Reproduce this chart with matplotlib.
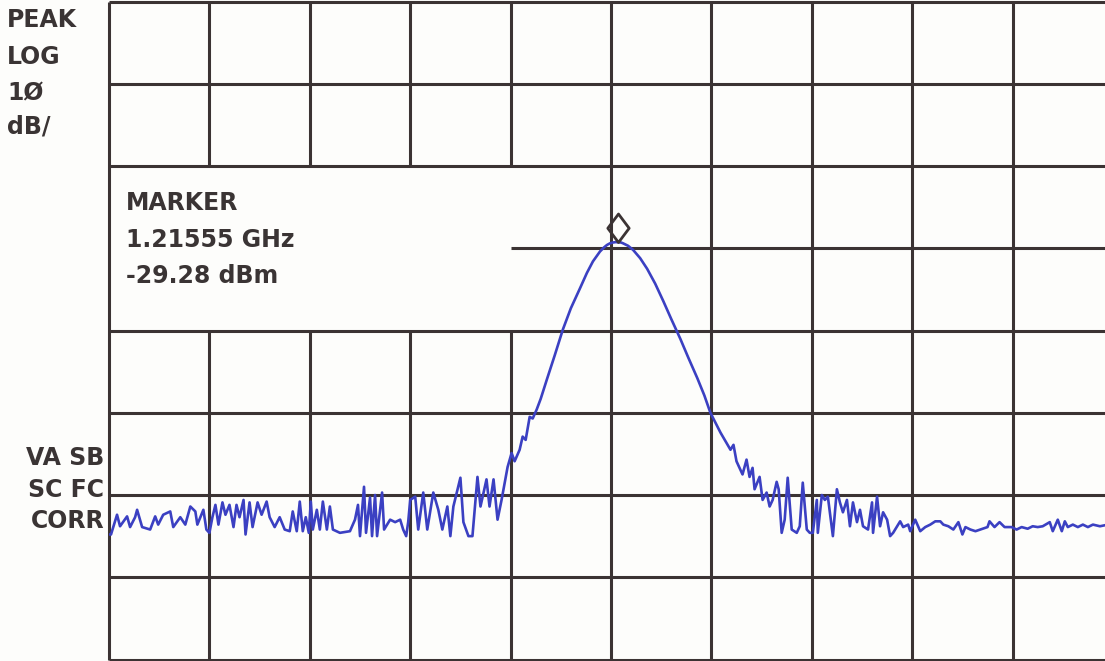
import numpy as np
import matplotlib.pyplot as plt
from matplotlib.path import Path

# spectrum analyser plot: 10 divisions across, ref level 0 dBm, 10 dB/div, 8 divisions down
# trace position in screen divisions, level in dBm
div = [0.00, 0.02, 0.08, 0.11, 0.18, 0.21, 0.26, 0.28, 0.33, 0.41, 0.46, 0.49, 0.54, 0.61,
       0.64, 0.71, 0.76, 0.81, 0.86, 0.88, 0.91, 0.94, 0.97, 1.00,
       1.03, 1.06, 1.09, 1.13, 1.16, 1.20, 1.24, 1.27, 1.30, 1.34, 1.36, 1.40, 1.43, 1.48,
       1.52, 1.57, 1.60, 1.65, 1.70, 1.75, 1.80, 1.83, 1.87, 1.90, 1.93, 1.96, 1.99,
       2.01, 2.03, 2.07, 2.10, 2.13, 2.17, 2.20, 2.23, 2.30, 2.40, 2.45, 2.48, 2.50, 2.54,
       2.56, 2.60, 2.62, 2.65, 2.67, 2.72, 2.74, 2.80, 2.85, 2.90, 2.93, 2.96, 2.98,
       3.00, 3.05, 3.08, 3.13, 3.17, 3.23, 3.28, 3.32, 3.37, 3.40, 3.43, 3.50, 3.53, 3.58,
       3.62, 3.65, 3.67, 3.70, 3.76, 3.79, 3.83, 3.87, 3.91, 3.97, 4.01, 4.04, 4.09,
       4.12, 4.15, 4.19, 4.22, 4.26, 4.30, 4.36, 4.44, 4.52, 4.60, 4.69, 4.76, 4.82, 4.89,
       4.93, 4.96, 4.99, 5.02, 5.05, 5.07, 5.10, 5.12, 5.17, 5.22, 5.29, 5.36, 5.44, 5.52,
       5.60, 5.69, 5.77, 5.86, 5.93, 5.99,
       6.09, 6.19, 6.22, 6.25, 6.31, 6.35, 6.38, 6.41, 6.43, 6.48, 6.51, 6.55, 6.58, 6.61,
       6.65, 6.67, 6.70, 6.73, 6.76, 6.80, 6.85, 6.88, 6.91, 6.95, 6.98, 7.01, 7.05, 7.06,
       7.10, 7.13, 7.16, 7.21, 7.25, 7.28, 7.31, 7.35, 7.38, 7.41, 7.45, 7.48, 7.51, 7.56,
       7.60, 7.61, 7.65, 7.68, 7.71, 7.75, 7.78, 7.81, 7.88, 7.91, 7.96,
       7.98, 8.03, 8.08, 8.13, 8.18, 8.23, 8.28, 8.31, 8.36, 8.41, 8.46, 8.50, 8.53, 8.58,
       8.63, 8.70, 8.75, 8.77, 8.82, 8.87, 8.92, 8.99, 9.04, 9.09, 9.15, 9.20, 9.25, 9.30,
       9.37, 9.40, 9.45, 9.49, 9.52, 9.55, 9.60, 9.65, 9.70, 9.75, 9.80, 9.87, 9.95, 10.00]
level = [-64.8, -64.8, -62.4, -63.8, -62.6, -63.9, -62.7, -61.8, -63.9, -64.2, -62.6, -63.6, -62.4, -62.0,
         -63.9, -62.7, -63.6, -61.4, -62.0, -63.6, -62.7, -61.8, -64.2, -64.6,
         -62.7, -61.2, -63.6, -60.9, -62.4, -61.2, -63.9, -61.2, -62.7, -60.6, -64.8, -60.9, -63.9, -60.9,
         -62.4, -60.8, -62.7, -63.9, -62.7, -64.2, -64.4, -62.0, -64.4, -60.8, -64.4, -62.7, -64.6,
         -60.8, -64.2, -61.8, -64.2, -60.8, -64.2, -61.4, -64.2, -64.6, -64.4, -63.0, -61.2, -65.0, -59.0,
         -64.6, -60.3, -65.0, -60.0, -65.0, -59.7, -64.2, -63.0, -63.3, -63.0, -64.2, -65.0, -63.3,
         -60.6, -60.2, -64.2, -59.7, -64.2, -59.7, -61.8, -64.2, -61.4, -65.0, -61.4, -57.9, -63.3, -65.0,
         -65.0, -60.6, -57.8, -61.4, -58.1, -61.4, -58.1, -63.0, -60.6, -56.6, -54.9, -55.9, -54.5,
         -52.9, -53.3, -50.5, -50.7, -49.6, -48.3, -46.0, -43.0, -39.9, -37.3, -34.9, -33.0, -31.6, -30.4,
         -29.9, -29.6, -29.4, -29.3, -29.25, -29.28, -29.3, -29.4, -29.7, -30.2, -31.2, -32.5, -34.3, -36.4,
         -38.6, -41.0, -43.3, -45.8, -47.9, -50.0,
         -52.4, -54.5, -53.9, -55.9, -57.5, -55.7, -57.8, -56.7, -59.3, -57.8, -60.6, -59.7, -61.4, -60.6,
         -58.4, -59.3, -64.6, -63.0, -57.9, -64.2, -64.6, -63.8, -58.5, -64.2, -64.6, -64.6, -60.6, -64.6,
         -60.0, -60.6, -60.2, -65.0, -59.3, -60.9, -62.1, -60.6, -63.8, -60.9, -63.3, -61.8, -63.8, -64.2,
         -60.9, -64.6, -60.2, -63.8, -62.1, -63.0, -65.0, -64.6, -63.2, -63.9, -63.6,
         -64.4, -63.0, -64.4, -63.9, -63.6, -63.2, -63.2, -63.6, -63.8, -64.2, -63.3, -64.8, -63.9, -64.2,
         -64.4, -64.1, -63.9, -63.2, -63.9, -63.3, -63.9, -63.9, -64.2, -63.9, -64.1, -63.8, -63.9, -63.8,
         -63.3, -64.4, -63.0, -64.4, -63.2, -63.9, -63.6, -63.9, -63.6, -63.9, -63.6, -63.8, -63.6, -63.8]

marker_div = 5.07
marker_dbm = -29.28

left_labels = ["PEAK", "LOG", "1Ø", "dB/"]
bottom_labels = ["VA SB", "SC FC", "CORR"]
marker_lines = ["MARKER", "1.21555 GHz", "-29.28 dBm"]

W, H = 1105, 661
grid_c = "#3b3333"
trace_c = "#3b40c2"
txt_c = "#3a3434"

fig = plt.figure(figsize=(W / 100, H / 100), dpi=100, facecolor="#fdfdfb")
ax = fig.add_axes([109 / W, 1.5 / H, 1004 / W, 658 / H])
ax.set_xlim(0, 10)
ax.set_ylim(-80, 0)
ax.axis("off")

# graticule, with the marker readout box left blank
lw = 2.2
for i in range(1, 10):
    if i <= 4:
        ax.vlines(i, -80, -40, color=grid_c, lw=lw)
        ax.vlines(i, -20, 0, color=grid_c, lw=lw)
    else:
        ax.vlines(i, -80, 0, color=grid_c, lw=lw)
for j in range(-70, 0, 10):
    if j == -30:
        ax.hlines(j, 4, 10, color=grid_c, lw=lw)
    else:
        ax.hlines(j, 0, 10, color=grid_c, lw=lw)
ax.hlines([0, -80], 0, 10, color=grid_c, lw=lw, clip_on=False)
ax.vlines([0, 10], -80, 0, color=grid_c, lw=lw, clip_on=False)

ax.plot(div, level, color=trace_c, lw=1.9, solid_joinstyle="round", zorder=3)

# diamond marker sitting on the peak
diamond = Path([(0, 0), (-0.75, 1), (0, 2), (0.75, 1), (0, 0)],
               [Path.MOVETO, Path.LINETO, Path.LINETO, Path.LINETO, Path.CLOSEPOLY])
ax.plot([marker_div], [marker_dbm], marker=diamond, ms=41, mfc="none",
        mec=grid_c, mew=2.0, zorder=4, clip_on=False)

font = dict(family="DejaVu Sans", weight="bold", size=17, color=txt_c, va="center")
for s, y in zip(left_labels, [20, 57, 93, 127]):
    fig.text(7 / W, 1 - y / H, s, ha="left", **font)
for s, y in zip(bottom_labels, [458, 490, 521]):
    fig.text(104 / W, 1 - y / H, s, ha="right", **font)
for s, y in zip(marker_lines, [203, 240, 276]):
    fig.text(126 / W, 1 - y / H, s, ha="left", **font)

fig.savefig("out.png", dpi=100, facecolor=fig.get_facecolor())
